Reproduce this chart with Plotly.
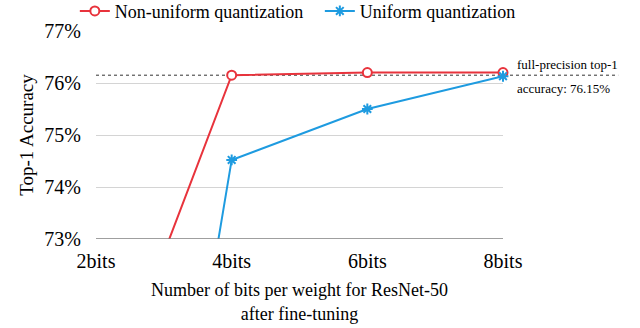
import plotly.graph_objects as go

bits = [2, 4, 6, 8]
tick_labels = ["2bits", "4bits", "6bits", "8bits"]
non_uniform = [69.3, 76.15, 76.2, 76.2]
uniform = [58.9, 74.52, 75.5, 76.13]
full_precision = 76.15
y_ticks = [73, 74, 75, 76, 77]
y_tick_labels = ["73%", "74%", "75%", "76%", "77%"]

FONT = "Liberation Serif, Times New Roman, serif"
RED = "#E8333C"
BLUE = "#1E9BE0"

fig = go.Figure()
fig.add_trace(go.Scatter(
    x=bits, y=non_uniform, mode="lines+markers", name="Non-uniform quantization",
    line=dict(color=RED, width=2),
    marker=dict(symbol="circle", size=9, color="white", line=dict(color=RED, width=2)),
    cliponaxis=False,
))
fig.add_trace(go.Scatter(
    x=bits, y=uniform, mode="lines+markers", name="Uniform quantization",
    line=dict(color=BLUE, width=2),
    marker=dict(symbol="asterisk-open", size=9, color=BLUE, line=dict(color=BLUE, width=2)),
    cliponaxis=False,
))

fig.add_shape(type="line", xref="paper", yref="y", x0=0, x1=1.283,
              y0=full_precision, y1=full_precision,
              line=dict(color="#333333", width=1, dash="dot"), layer="below")
fig.add_annotation(xref="paper", yref="y", x=1.03, y=full_precision, yshift=1,
                   text="full-precision top-1", showarrow=False, xanchor="left",
                   yanchor="bottom", font=dict(family=FONT, size=13, color="black"))
fig.add_annotation(xref="paper", yref="y", x=1.03, y=full_precision, yshift=-4,
                   text="accuracy: " + f"{full_precision:.2f}%", showarrow=False, xanchor="left",
                   yanchor="top", font=dict(family=FONT, size=13, color="black"))

fig.update_layout(
    width=640, height=328,
    margin=dict(l=96, r=137, t=31, b=89, autoexpand=False),
    paper_bgcolor="white", plot_bgcolor="white",
    font=dict(family=FONT, color="black"),
    legend=dict(orientation="h", x=-0.052, y=1.095, xanchor="left", yanchor="middle",
                font=dict(family=FONT, size=18), entrywidth=200, itemwidth=30,
                bgcolor="rgba(0,0,0,0)"),
    xaxis=dict(range=[2, 8], tickvals=bits, ticktext=tick_labels, showgrid=False,
               zeroline=False, showline=False, ticks="", ticklabelstandoff=8,
               automargin=False,
               tickfont=dict(family=FONT, size=20),
               title=dict(text="Number of bits per weight for ResNet-50<br>after fine-tuning",
                          font=dict(family=FONT, size=18), standoff=12)),
    yaxis=dict(range=[73, 77], tickvals=y_ticks, ticktext=y_tick_labels,
               showgrid=True, gridcolor="#d4d4d4", gridwidth=1, zeroline=False,
               showline=False, ticks="", ticklabelstandoff=14, automargin=False,
               tickfont=dict(family=FONT, size=20),
               title=dict(text="Top-1 Accuracy", font=dict(family=FONT, size=19), standoff=5)),
)
fig.add_shape(type="line", xref="paper", yref="y", x0=0, x1=1, y0=73, y1=73,
              line=dict(color="#7f7f7f", width=1.5), layer="above")

fig.write_html("out.html")
